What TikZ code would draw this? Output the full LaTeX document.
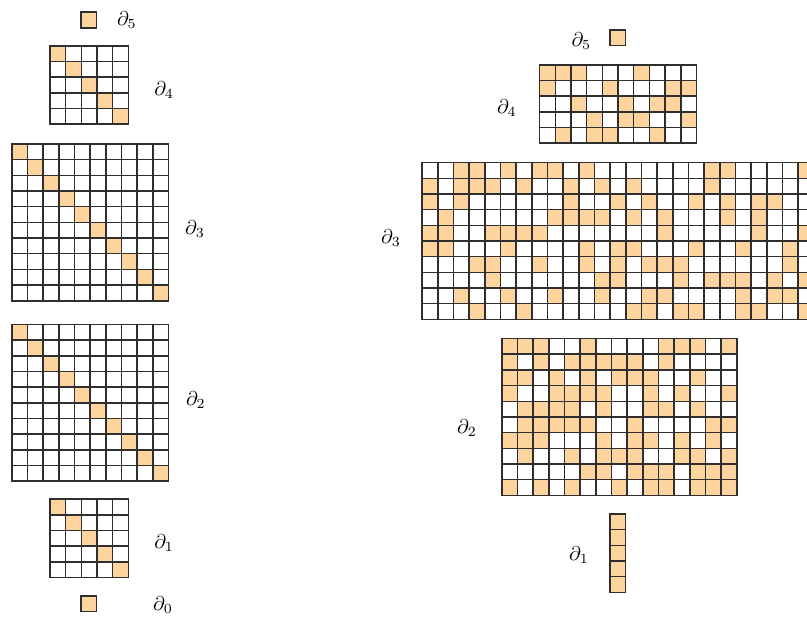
\documentclass[tikz,border=0pt]{standalone}
\usepackage{amsmath}
\usepackage{xcolor}
\usepackage{tikz}

\definecolor{cellfill}{HTML}{FDD39E}
\definecolor{cellline}{HTML}{2E2E2E}

\tikzset{
    gridline/.style={draw=cellline, line width=0.8pt, line cap=rect},
    oplabel/.style={inner sep=1pt, font=\normalsize}
}

% #1,#2: top left corner, #3 columns, #4 rows, #5 filled cells as row/{cols}
\newcommand{\cellmat}[5]{%
    \foreach \r/\cs in {#5} {
        \foreach \c in \cs {
            \fill[cellfill] (#1+\c-1,-#2-\r+1) rectangle +(1,-1);
        }
    }
    \foreach \i in {0,...,#3} {
        \draw[gridline] (#1+\i,-#2) -- +(0,-#4);
    }
    \foreach \j in {0,...,#4} {
        \draw[gridline] (#1,-#2-\j) -- +(#3,0);
    }
}

\begin{document}
\begin{tikzpicture}[x=7.835pt, y=7.835pt]
    \useasboundingbox (0,0) rectangle (51.5,-39.63);
    \clip (0,0) rectangle (51.5,-39.63);

    % left: diagonal forms
    \cellmat{5.17}{0.78}{1}{1}{1/1}
    \cellmat{3.19}{2.92}{5}{5}{1/1,2/2,3/3,4/4,5/5}
    \cellmat{0.75}{9.19}{10}{10}{1/1,2/2,3/3,4/4,5/5,6/6,7/7,8/8,9/9,10/10}
    \cellmat{0.75}{20.70}{10}{10}{1/1,2/2,3/3,4/4,5/5,6/6,7/7,8/8,9/9,10/10}
    \cellmat{3.19}{31.85}{5}{5}{1/1,2/2,3/3,4/4,5/5}
    \cellmat{5.17}{38.03}{1}{1}{1/1}

    \node[oplabel] (dl5) at (8.10,-1.28) {$\partial_5$};
    \node[oplabel] (dl4) at (10.47,-5.74) {$\partial_4$};
    \node[oplabel] (dl3) at (12.44,-14.60) {$\partial_3$};
    \node[oplabel] (dl2) at (12.50,-25.50) {$\partial_2$};
    \node[oplabel] (dl1) at (10.47,-34.65) {$\partial_1$};
    \node[oplabel] (dl0) at (10.40,-38.60) {$\partial_0$};

    % right: boundary matrices
    \cellmat{38.93}{1.91}{1}{1}{1/1}
    \cellmat{34.44}{4.13}{10}{5}{1/{1,2,3,7},2/{1,5,9,10},3/{3,6,8,9},
        4/{4,6,7,10},5/{2,4,5,8}}
    \cellmat{26.94}{10.38}{25}{10}{1/{3,4,6,8,9,11,19,20,25},
        2/{1,3,4,5,7,10,12,14,19},3/{1,3,10,13,15,18,20,22,23},
        4/{2,9,10,11,12,14,16,20,22},5/{1,2,5,6,7,8,16,22,25},
        6/{1,2,6,11,13,14,18,21,24},7/{4,5,8,11,13,15,16,17,24},
        8/{5,12,13,17,19,20,21,23,25},9/{3,6,9,12,15,16,21,23,24},
        10/{4,7,14,15,17,18,21,22,25}}
    \cellmat{32.02}{21.61}{15}{10}{1/{1,2,3,6,11,12,13,15},
        2/{1,3,5,6,7,8,9,11},3/{1,2,4,6,8,9,10,13},
        4/{1,4,5,6,7,10,12,15},5/{2,3,4,5,7,10,11,13},
        6/{2,3,4,5,6,9,14,15},7/{1,2,3,7,9,10,12,14},
        8/{2,5,7,8,9,12,13,15},9/{6,7,9,10,11,13,14,15},
        10/{1,3,5,8,10,11,13,14,15}}
    \cellmat{38.93}{32.80}{1}{5}{1/1,2/1,3/1,4/1,5/1}

    \node[oplabel] (dr5) at (37.10,-2.62) {$\partial_5$};
    \node[oplabel] (dr4) at (32.35,-6.90) {$\partial_4$};
    \node[oplabel] (dr3) at (24.95,-15.19) {$\partial_3$};
    \node[oplabel] (dr2) at (29.80,-27.30) {$\partial_2$};
    \node[oplabel] (dr1) at (36.95,-35.42) {$\partial_1$};
\end{tikzpicture}
\end{document}
